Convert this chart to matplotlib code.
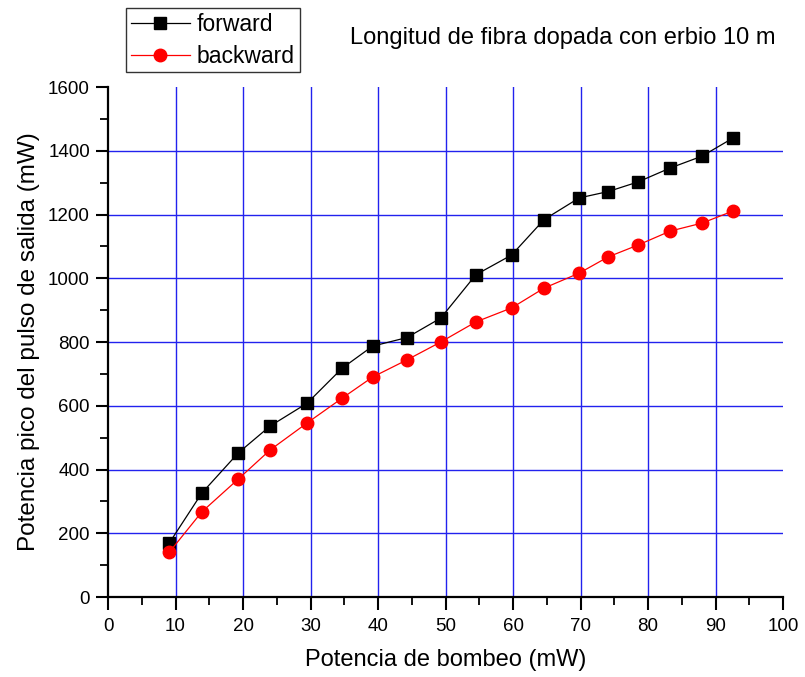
import matplotlib
matplotlib.use("Agg")
import matplotlib.pyplot as plt
from matplotlib.ticker import MultipleLocator

plt.rcParams['font.family'] = ['Liberation Sans', 'DejaVu Sans']

pump_mw = [9.1, 13.9, 19.3, 24.0, 29.5, 34.7, 39.2, 44.3, 49.3, 54.5,
           59.8, 64.6, 69.8, 74.1, 78.5, 83.3, 88.0, 92.6]
forward = [170, 326, 452, 536, 608, 718, 787, 814, 875, 1011,
           1073, 1184, 1252, 1272, 1302, 1346, 1383, 1440]
backward = [141, 267, 370, 461, 546, 624, 690, 744, 800, 863,
            907, 969, 1016, 1067, 1104, 1148, 1173, 1211]

fig = plt.figure(figsize=(8.05, 6.77), dpi=100)
ax = fig.add_axes([108/805, 80/677, 675/805, 510/677])

ax.plot(pump_mw, forward, color='black', lw=0.9, marker='s', ms=8,
        mec='black', mfc='black', label='forward')
ax.plot(pump_mw, backward, color='red', lw=0.9, marker='o', ms=9,
        mec='red', mfc='red', label='backward')

ax.set_xlim(0, 100)
ax.set_ylim(0, 1600)
ax.xaxis.set_major_locator(MultipleLocator(10))
ax.xaxis.set_minor_locator(MultipleLocator(5))
ax.yaxis.set_major_locator(MultipleLocator(200))
ax.yaxis.set_minor_locator(MultipleLocator(100))

ax.grid(True, which='major', color='#2222ee', lw=1.0)
ax.set_axisbelow(True)
fig.canvas.draw()
for gl, loc in zip(ax.xaxis.get_gridlines(), ax.get_xticks()):
    if loc <= 0 or loc >= 100:
        gl.set_visible(False)
for gl, loc in zip(ax.yaxis.get_gridlines(), ax.get_yticks()):
    if loc <= 0 or loc >= 1600:
        gl.set_visible(False)

for s in ['top', 'right']:
    ax.spines[s].set_visible(False)
for s in ['left', 'bottom']:
    ax.spines[s].set_linewidth(1.6)

ax.tick_params(which='major', direction='out', length=9, width=1.5,
               labelsize=13.5, colors='black', pad=4)
ax.tick_params(axis='x', which='major', pad=6)
ax.tick_params(which='minor', direction='out', length=6, width=1.3)

ax.set_xlabel('Potencia de bombeo (mW)', fontsize=17, labelpad=10)
ax.set_ylabel('Potencia pico del pulso de salida (mW)', fontsize=17.5, labelpad=6)

leg = fig.legend(loc='upper left', bbox_to_anchor=(126/805, 1 - 8/677),
                 fontsize=16.5, frameon=True, fancybox=False, edgecolor='black',
                 borderpad=0.2, handlelength=2.6, handletextpad=0.3,
                 labelspacing=0.4, borderaxespad=0)
leg.get_frame().set_linewidth(1.0)

fig.text(350/805, 1 - 38/677, 'Longitud de fibra dopada con erbio 10 m',
         fontsize=17, va='center', ha='left')

fig.savefig('out.png', dpi=100)
